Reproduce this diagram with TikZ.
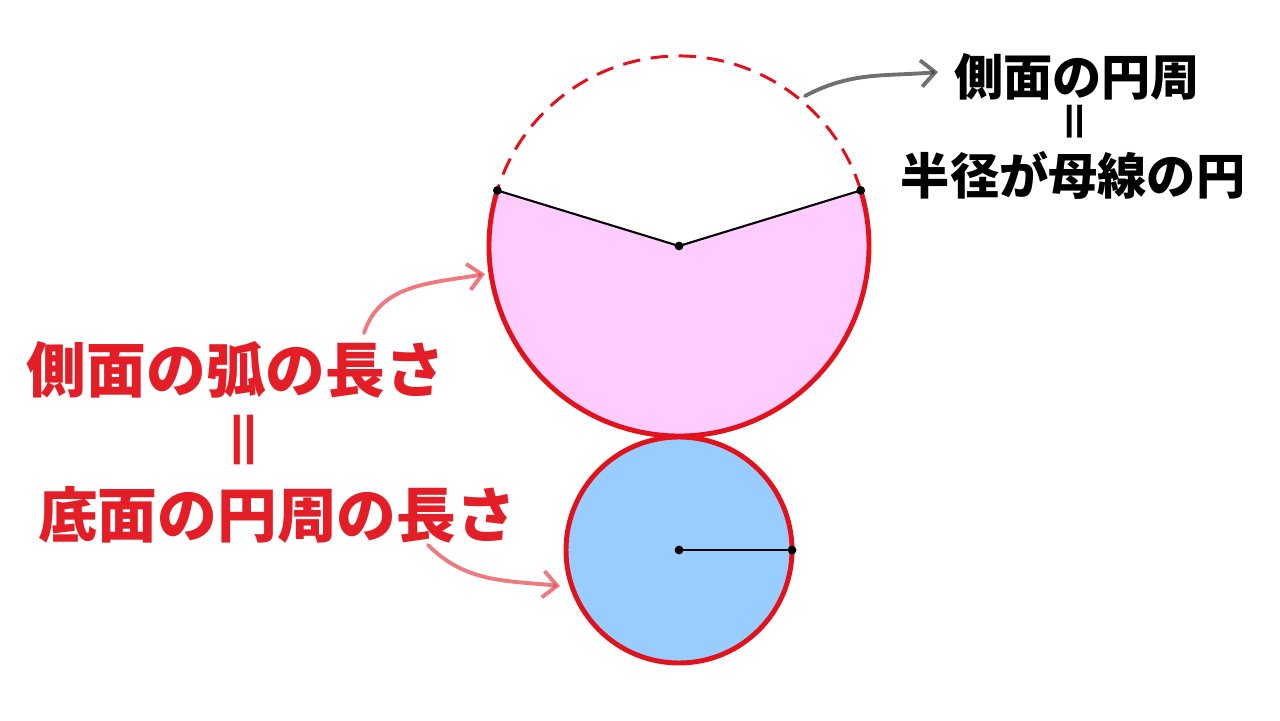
\documentclass[tikz,border=0pt]{standalone}
\usepackage{fontspec}
\setmainfont{Noto Sans CJK JP}
\usetikzlibrary{arrows.meta}
\definecolor{arcred}{RGB}{226,18,28}
\definecolor{sectorpink}{RGB}{255,204,255}
\definecolor{baseblue}{RGB}{153,204,255}
\definecolor{textred}{RGB}{228,30,38}

\begin{document}
\begin{tikzpicture}[x=0.02cm,y=0.02cm,
	pt/.style={circle,fill=black,inner sep=0pt,minimum size=5pt},
	hand/.style={line width=2.2pt,opacity=0.7,line cap=round,-{Straight Barb[length=8pt,width=15pt,line width=2.2pt]}},
	blacklbl/.style={font=\bfseries\fontsize{28}{30}\selectfont},
	redlbl/.style={text=textred,font=\bfseries\fontsize{34}{36}\selectfont}]
	\useasboundingbox (0,0) rectangle (1280,720);
	
	\coordinate (O) at (679,474);
	\coordinate (C) at (679,170);
	\path (O) ++(163:190) coordinate (A);
	\path (O) ++(17:190) coordinate (B);
	\path (C) ++(0:113) coordinate (D);
	
	\fill[sectorpink] (O) -- (A) arc[start angle=163,end angle=377,radius=190] -- cycle;
	
	\draw[arcred,line width=2.8pt] (A) arc[start angle=163,end angle=377,radius=190];
	
	\draw[arcred,line width=1.7pt,dash pattern=on 10pt off 6pt] (B) arc[start angle=17,end angle=163,radius=190];
	
	\draw[line width=1.2pt] (A) -- (O) -- (B);
	
	\filldraw[fill=baseblue,draw=arcred,line width=2.8pt] (C) circle[radius=113];
	
	\draw[line width=1.2pt] (C) -- (D);
	
	\node[pt] at (O) {};
	\node[pt] at (A) {};
	\node[pt] at (B) {};
	\node[pt] at (C) {};
	\node[pt] at (D) {};
	
	\node[blacklbl] (side) at (1077,643) {側面の円周};
	\node[font=\bfseries\fontsize{22}{24}\selectfont,rotate=90] (eqR) at (1078,598) {\scalebox{1.6}[1]{=}};
	\node[blacklbl] (rad) at (1073,545) {半径が母線の円};
	
	\node[redlbl] (arclen) at (236,350) {側面の弧の長さ};
	\node[text=textred,font=\bfseries\fontsize{28}{30}\selectfont,rotate=90] (eqL) at (248,280) {\scalebox{1.9}[1]{=}};
	\node[redlbl] (baselen) at (277,205) {底面の円周の長さ};
	
	\coordinate (g1) at (805,624);
	\coordinate (g2) at (938,648);
	\draw[hand,black!80] (g1) to[out=28,in=185] (g2);
	
	\coordinate (r1) at (364,387);
	\coordinate (r2) at (485,446);
	\draw[hand,textred!85] (r1) to[out=72,in=190] (r2);
	
	\coordinate (s1) at (428,175);
	\coordinate (s2) at (560,134);
	\draw[hand,textred!85] (s1) to[out=-45,in=174] (s2);
\end{tikzpicture}
\end{document}
